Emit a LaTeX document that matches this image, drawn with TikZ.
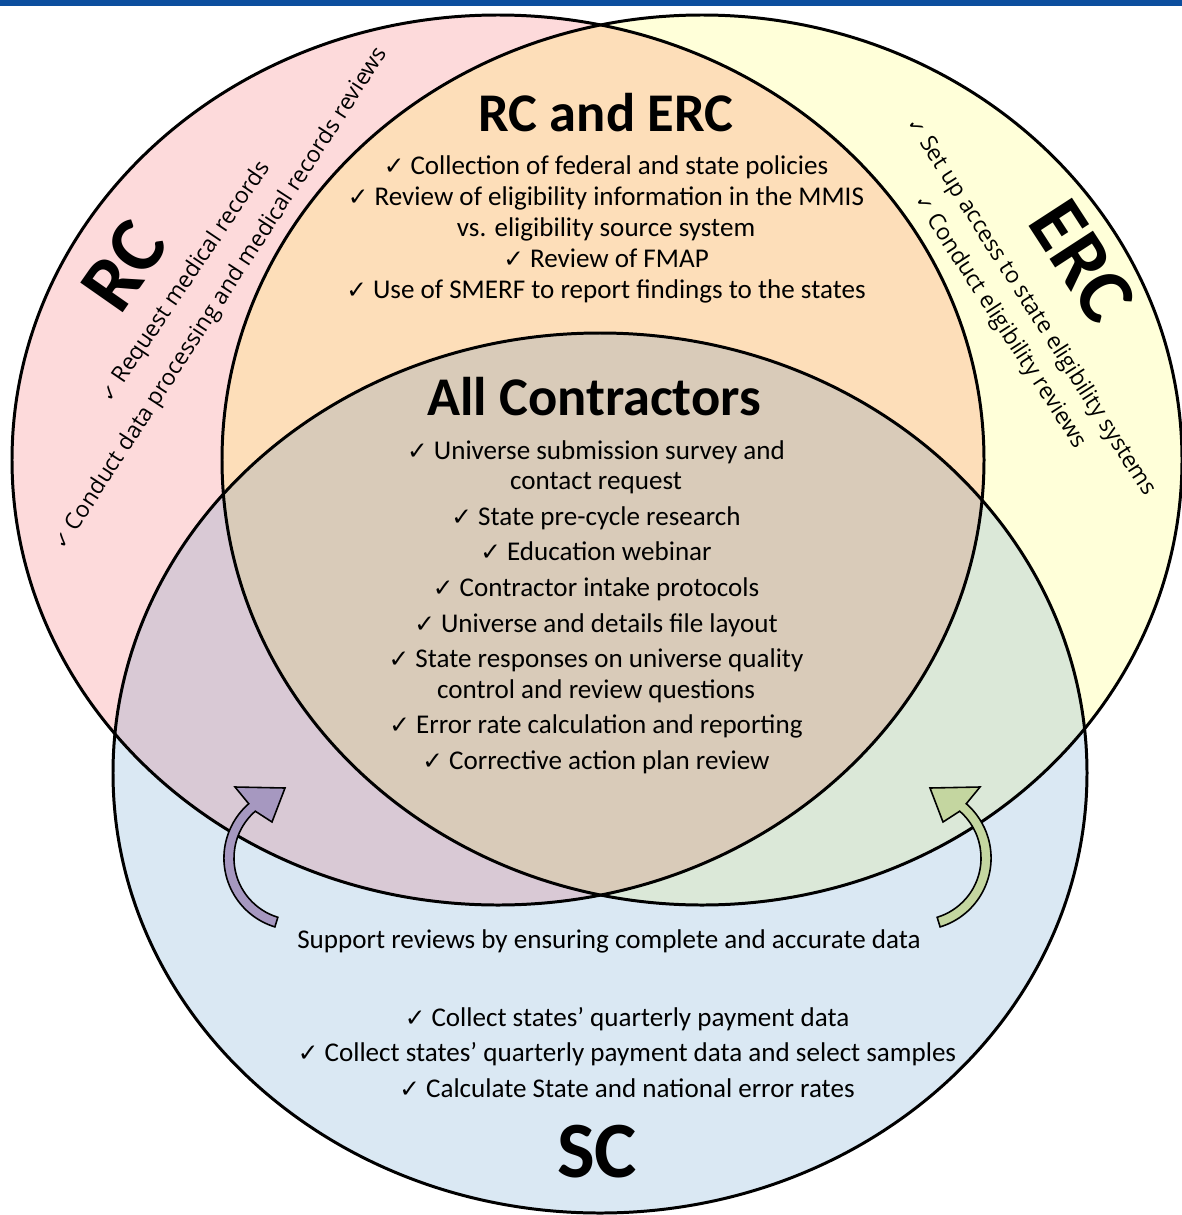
\documentclass[tikz,border=0pt]{standalone}
\usepackage{fontspec}
\setmainfont{Carlito}
\newfontfamily\tiltfont{Open Sans}
\newfontfamily\symfont{DejaVu Sans}
\usetikzlibrary{positioning}
\definecolor{barblue}{RGB}{12,78,158}
\definecolor{rcfill}{RGB}{253,218,219}
\definecolor{ercfill}{RGB}{255,255,217}
\definecolor{scfill}{RGB}{218,232,243}
\definecolor{rcercfill}{RGB}{253,222,185}
\definecolor{rcscfill}{RGB}{217,201,213}
\definecolor{ercscfill}{RGB}{219,232,216}
\definecolor{allfill}{RGB}{217,203,185}
\definecolor{purplearrow}{RGB}{166,152,192}
\definecolor{greenarrow}{RGB}{196,214,160}
\newcommand{\chk}{{\symfont\fontsize{7}{7}\selectfont ✓}\ }
\newcommand{\smallchk}{{\symfont\fontsize{5.6}{6}\selectfont ✓}\ }
\newcommand{\rcset}{(498,460) ellipse [x radius=486, y radius=445]}
\newcommand{\ercset}{(702,460) ellipse [x radius=480, y radius=445]}
\newcommand{\scset}{(600,773) ellipse [x radius=487, y radius=440]}
\newcommand{\bentpath}{(274.9,926.9) arc[start angle=107, end angle=229, radius=72] -- (235,787) -- (285,788) -- (272,822) -- (255.3,811.2) arc[start angle=229, end angle=107, radius=62] -- cycle}
\tikzset{heading/.style={font=\bfseries\fontsize{15.5}{18}\selectfont, inner sep=0pt, anchor=base},
         bigheading/.style={font=\bfseries\fontsize{22.7}{26}\selectfont, inner sep=0pt},
         item/.style={font=\fontsize{7.7}{9}\selectfont, inner sep=0pt, anchor=base},
         tilted/.style={font=\tiltfont\fontsize{6.5}{8}\selectfont, inner sep=0pt},
         rim/.style={draw=black, line width=0.85pt},
         bent/.style={draw=black, line width=0.45pt, line join=miter},
        }

\begin{document}
\begin{tikzpicture}[x=0.01cm, y=-0.01cm]
        \useasboundingbox (0,0) rectangle (1182,1215);
        \fill[barblue] (0,0) rectangle (1182,6);

        % the three sets and their overlaps
        \fill[rcfill] \rcset;
        \fill[ercfill] \ercset;
        \fill[scfill] \scset;
        \begin{scope}
            \clip \rcset;
            \fill[rcercfill] \ercset;
            \fill[rcscfill] \scset;
        \end{scope}
        \begin{scope}
            \clip \ercset;
            \fill[ercscfill] \scset;
            \clip \rcset;
            \fill[allfill] \scset;
        \end{scope}
        \draw[rim] \rcset;
        \draw[rim] \ercset;
        \draw[rim] \scset;

        % bent arrows
        \draw[bent, fill=purplearrow] \bentpath;
        \begin{scope}[shift={(1215,0)}, xscale=-1]
            \draw[bent, fill=greenarrow] \bentpath;
        \end{scope}

        \node[heading](bothtitle)at(606,131){RC and ERC};
        \foreach \yy/\txt in {174/\chk Collection of federal and state policies,
                              205/\chk Review of eligibility information in the MMIS,
                              236/vs. eligibility source system,
                              267/\chk Review of FMAP,
                              298/\chk Use of SMERF to report findings to the states}
            \node[item](both\yy)at(606,\yy){\txt};

        \node[heading](alltitle)at(594,415){All Contractors};
        \foreach \yy/\txt in {459/\chk Universe submission survey and,
                              489/contact request,
                              525/\chk State pre-cycle research,
                              560/\chk Education webinar,
                              596/\chk Contractor intake protocols,
                              632/\chk Universe and details file layout,
                              667/\chk State responses on universe quality,
                              698/control and review questions,
                              733/\chk Error rate calculation and reporting,
                              769/\chk Corrective action plan review}
            \node[item](all\yy)at(596,\yy){\txt};

        \node[item](support)at(609,948){Support reviews by ensuring complete and accurate data};
        \foreach \yy/\txt in {1026/\chk Collect states’ quarterly payment data,
                              1061/\chk Collect states’ quarterly payment data and select samples,
                              1097/\chk Calculate State and national error rates}
            \node[item](sc\yy)at(627,\yy){\txt};
        \node[bigheading, anchor=base](sctitle)at(597,1177){SC};

        \node[bigheading, rotate=55](rctitle)at(124,266){RC};
        \node[tilted, rotate=56](rcfirst)at(186,282){\smallchk Request medical records};
        \node[tilted, rotate=57](rcsecond)at(221,299){\smallchk Conduct data processing and medical records reviews};

        \node[bigheading, rotate=-57](erctitle)at(1082,261){ERC};
        \node[tilted, rotate=-57.5](ercfirst)at(1031,307){\smallchk Set up access to state eligibility systems};
        \node[tilted, rotate=-57](ercsecond)at(1000,322){\smallchk Conduct eligibility reviews};
\end{tikzpicture}
\end{document}
